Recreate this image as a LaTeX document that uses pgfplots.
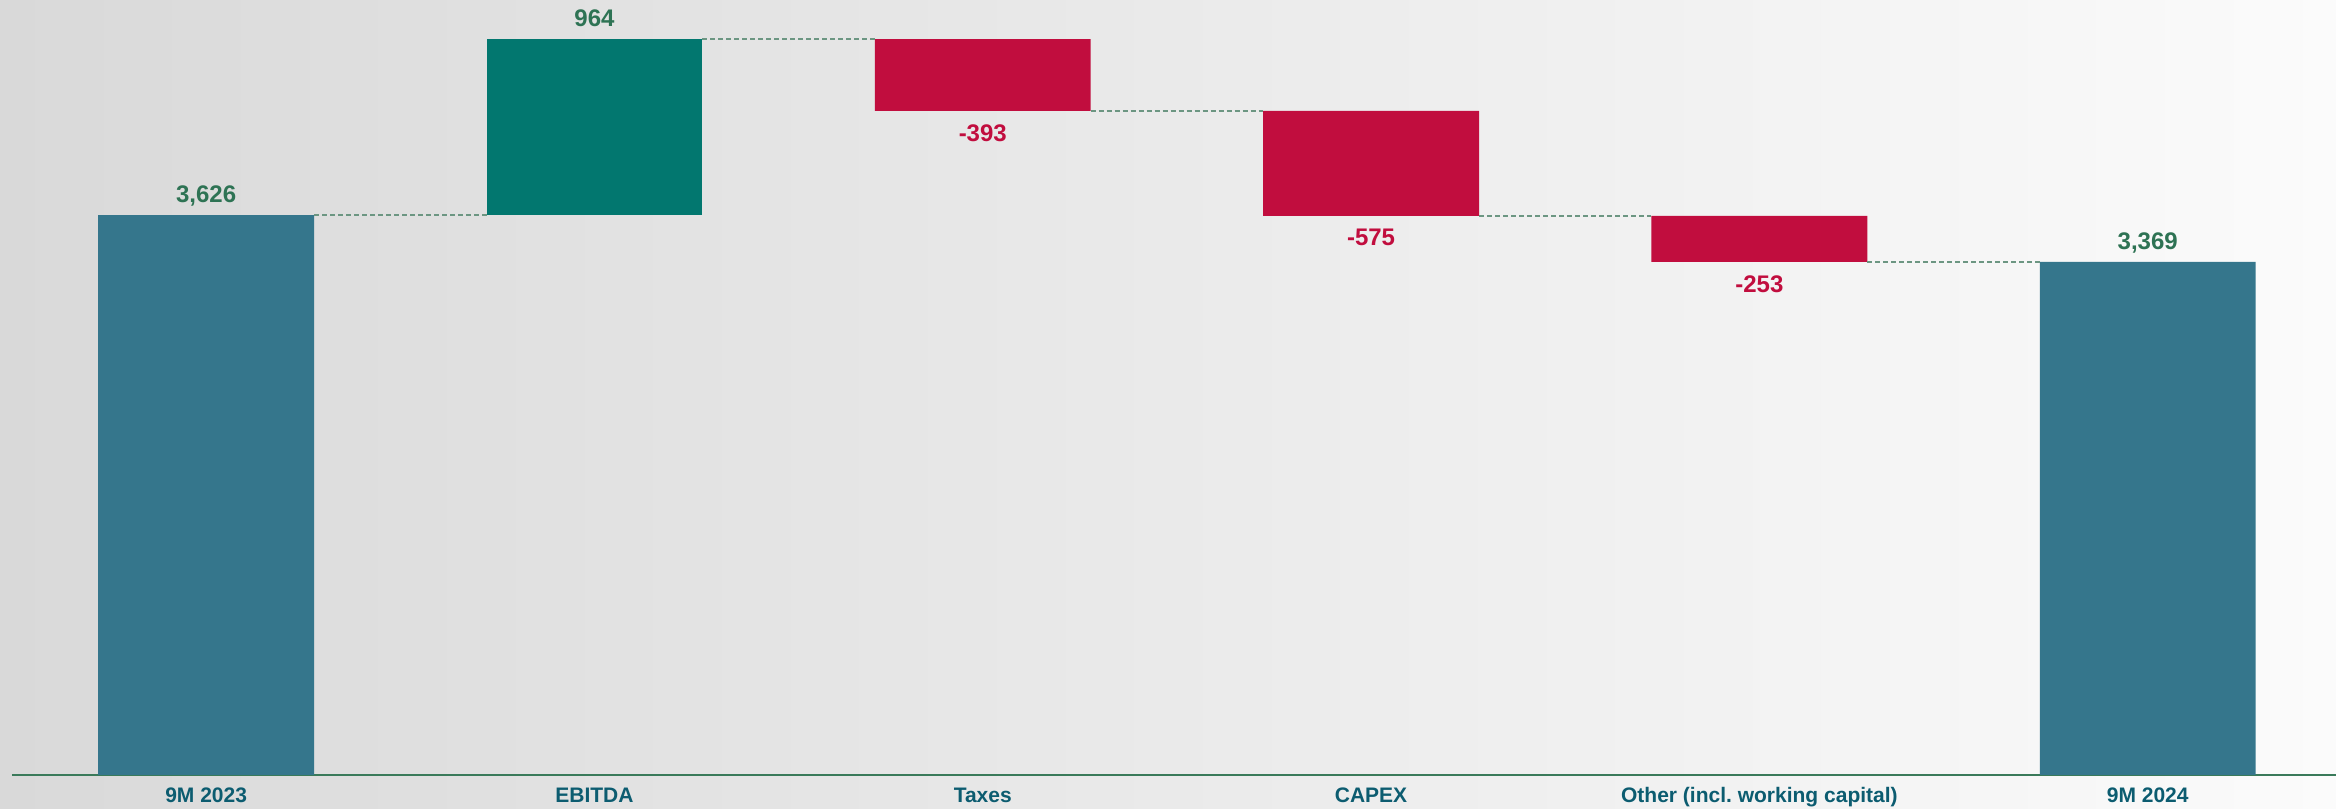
\documentclass[border=0pt]{standalone}
\usepackage{fontspec}
\setmainfont{Liberation Sans}
\usepackage{pgfplots}
\pgfplotsset{compat=1.18}
\usetikzlibrary{backgrounds}
\definecolor{barTeal}{RGB}{53,118,140}
\definecolor{barGreen}{RGB}{2,119,111}
\definecolor{barRed}{RGB}{193,13,62}
\definecolor{lblGreen}{RGB}{46,115,84}
\definecolor{catBlue}{RGB}{12,92,112}
\definecolor{connector}{RGB}{108,150,130}
\definecolor{axisGreen}{RGB}{58,122,90}
\definecolor{bgLeft}{RGB}{217,217,217}
\definecolor{bgRight}{RGB}{251,251,251}
\pgfplotsset{wf/.style={
  scale only axis, width=1162pt, height=387.5pt,
  xmin=-0.5, xmax=5.485, ymin=559, ymax=4804}}
\begin{document}
\begin{tikzpicture}
\begin{axis}[wf, name=ax,
  ybar stacked, bar width=0.556,
  axis y line=none, axis x line=bottom,
  x axis line style={-, draw=axisGreen, line width=1.3pt},
  xtick={0,1,2,3,4,5},
  xticklabels={9M 2023, EBITDA, Taxes, CAPEX, Other (incl.\ working capital), 9M 2024},
  major tick length=0pt,
  xticklabel style={anchor=base, yshift=-14pt, inner sep=0pt, text=catBlue,
    font=\fontsize{10.5}{12}\selectfont\bfseries},
]
\addplot[draw=none, fill=none] coordinates {(0,0) (1,3626) (2,4197) (3,3622) (4,3369) (5,0)};
\addplot[draw=none, fill=barTeal] coordinates {(0,3626) (1,0) (2,0) (3,0) (4,0) (5,3369)};
\addplot[draw=none, fill=barGreen] coordinates {(0,0) (1,964) (2,0) (3,0) (4,0) (5,0)};
\addplot[draw=none, fill=barRed] coordinates {(0,0) (1,0) (2,393) (3,575) (4,253) (5,0)};
\end{axis}
\begin{axis}[wf, at={(ax.south west)}, anchor=south west, hide axis, clip=false]
\addplot[connector, dash pattern=on 2.5pt off 1.5pt, line width=0.8pt] coordinates {(0.278,3626) (0.722,3626)};
\addplot[connector, dash pattern=on 2.5pt off 1.5pt, line width=0.8pt] coordinates {(1.278,4590) (1.722,4590)};
\addplot[connector, dash pattern=on 2.5pt off 1.5pt, line width=0.8pt] coordinates {(2.278,4197) (2.722,4197)};
\addplot[connector, dash pattern=on 2.5pt off 1.5pt, line width=0.8pt] coordinates {(3.278,3622) (3.722,3622)};
\addplot[connector, dash pattern=on 2.5pt off 1.5pt, line width=0.8pt] coordinates {(4.278,3369) (4.722,3369)};
\addplot[only marks, mark=none, nodes near coords, point meta=explicit symbolic,
  nodes near coords style={anchor=base, yshift=6.3pt, inner sep=0pt, text=lblGreen,
    font=\fontsize{12}{14}\selectfont\bfseries}]
  coordinates {(0,3626)[{3,626}] (1,4590)[{964}] (5,3369)[{3,369}]};
\addplot[only marks, mark=none, nodes near coords, point meta=explicit symbolic,
  nodes near coords style={anchor=base, yshift=-15.1pt, inner sep=0pt, text=barRed,
    font=\fontsize{12}{14}\selectfont\bfseries}]
  coordinates {(2,4197)[{-393}] (3,3622)[{-575}] (4,3369)[{-253}]};
\end{axis}
\begin{scope}[on background layer]
\fill[left color=bgLeft, right color=bgRight] ([xshift=-6pt,yshift=-17pt]ax.south west) rectangle (ax.north east);
\end{scope}
\pgfresetboundingbox
\useasboundingbox ([xshift=-6pt,yshift=-17pt]ax.south west) rectangle (ax.north east);
\end{tikzpicture}
\end{document}
